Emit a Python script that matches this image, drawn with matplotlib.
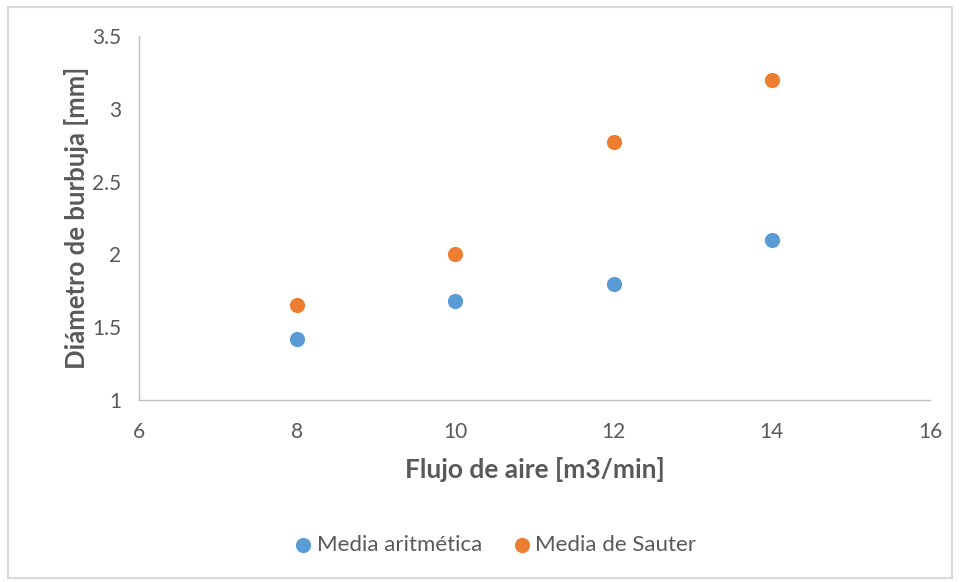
import matplotlib
matplotlib.use("Agg")
import matplotlib.pyplot as plt
from matplotlib.patches import Rectangle

# Data
flujo = [8, 10, 12, 14]
media_aritmetica = [1.42, 1.68, 1.80, 2.10]
media_sauter = [1.65, 2.00, 2.77, 3.20]
x_ticks = [6, 8, 10, 12, 14, 16]
y_ticks = [1, 1.5, 2, 2.5, 3, 3.5]
y_tick_labels = ["1", "1.5", "2", "2.5", "3", "3.5"]

plt.rcParams['font.family'] = ['Lato', 'DejaVu Sans']
W, H, DPI = 959, 582, 100
fig = plt.figure(figsize=(W / DPI, H / DPI), dpi=DPI)
fig.patch.set_facecolor("white")

# chart frame
fig.add_artist(Rectangle((8 / W, 4 / H), 944 / W, 571 / H, transform=fig.transFigure,
                         fill=False, edgecolor="#D9D9D9", linewidth=1.5))

ax = fig.add_axes([139 / W, 1 - 400 / H, (930 - 139) / W, (400 - 36) / H])
blue = "#5B9BD5"
orange = "#ED7D31"
ax.scatter(flujo, media_aritmetica, s=120, color=blue, label="Media aritmética", zorder=3, linewidths=0)
ax.scatter(flujo, media_sauter, s=120, color=orange, label="Media de Sauter", zorder=3, linewidths=0)

ax.set_xlim(6, 16)
ax.set_ylim(1, 3.5)
ax.set_xticks(x_ticks)
ax.set_yticks(y_ticks)
ax.set_yticklabels(y_tick_labels)
ax.tick_params(length=0, labelsize=15, colors="#595959")
ax.tick_params(axis="y", pad=13)
ax.tick_params(axis="x", pad=16)
for side in ["top", "right"]:
    ax.spines[side].set_visible(False)
for side in ["left", "bottom"]:
    ax.spines[side].set_color("#BFBFBF")
    ax.spines[side].set_linewidth(1)

ax.set_xlabel("Flujo de aire [m3/min]", fontsize=19, fontweight="bold", color="#595959", labelpad=11)
ax.set_ylabel("Diámetro de burbuja [mm]", fontsize=18.5, fontweight="bold", color="#595959", labelpad=2)

leg = fig.legend(loc="center", bbox_to_anchor=(493 / W, 1 - 545 / H), ncol=2, frameon=False,
                 fontsize=16, handletextpad=0.0, handlelength=1.2, columnspacing=1.2, markerscale=1.0)
for t in leg.get_texts():
    t.set_color("#595959")

fig.savefig("out.png", dpi=DPI, facecolor="white")
